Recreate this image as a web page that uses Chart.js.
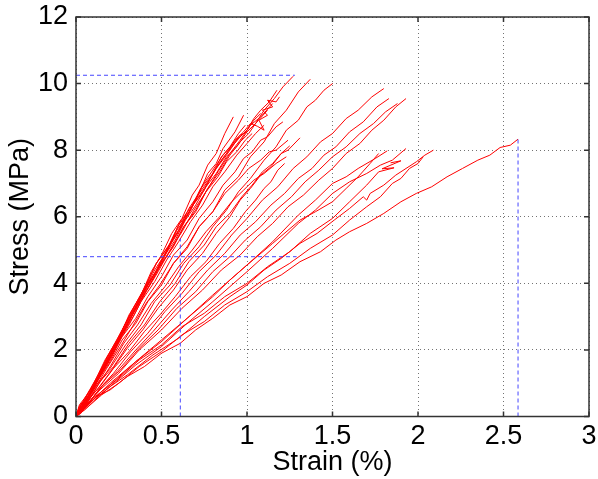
<!DOCTYPE html>
<html>
<head>
<meta charset="utf-8">
<script src="https://cdn.jsdelivr.net/npm/chart.js@4/dist/chart.umd.min.js"></script>
<style>
  html, body { margin: 0; padding: 0; background: #fff; }
  #chart { display: block; }
</style>
</head>
<body>
<canvas id="chart" width="598" height="479"></canvas>
<script>
// Axis ticks
const strainTicks = [0, 0.5, 1, 1.5, 2, 2.5, 3];
const stressTicks = [0, 2, 4, 6, 8, 10, 12];

// Specimen curves, [strain %, stress MPa]
// steep group
const specA01 = [[0,0],[0.03,0.35],[0.07,0.6],[0.12,1.1],[0.18,1.75],[0.25,2.35],[0.31,3.05],[0.38,3.65],[0.44,4.35],[0.5,4.85],[0.56,5.5],[0.62,5.95],[0.68,6.65],[0.72,6.95],[0.77,7.55],[0.82,7.9],[0.87,8.5],[0.92,9.0]];
const specA02 = [[0,0],[0.02,0.1],[0.05,0.45],[0.1,0.8],[0.15,1.35],[0.22,1.95],[0.3,2.8],[0.36,3.3],[0.42,3.95],[0.48,4.45],[0.55,5.2],[0.6,5.6],[0.66,6.25],[0.72,6.7],[0.77,7.3],[0.82,7.6],[0.86,8.05],[0.93,8.55],[0.98,9.05]];
const specA03 = [[0,0],[0.03,0.2],[0.06,0.55],[0.1,0.85],[0.16,1.5],[0.22,2.0],[0.28,2.7],[0.35,3.3],[0.42,4.0],[0.5,4.6],[0.56,5.25],[0.62,5.75],[0.69,6.4],[0.75,6.85],[0.82,7.45],[0.88,7.85],[0.94,8.3],[1.0,8.6],[1.04,8.95],[1.08,9.2],[1.13,9.45],[1.175,9.8]];
const specA04 = [[0,0],[0.03,0.3],[0.06,0.45],[0.12,1.1],[0.18,1.6],[0.25,2.35],[0.32,2.95],[0.38,3.6],[0.45,4.2],[0.52,4.85],[0.58,5.3],[0.64,5.9],[0.7,6.35],[0.76,6.9],[0.82,7.3],[0.88,7.8],[0.94,8.1],[1.0,8.55],[1.05,8.8],[1.1,9.2],[1.16,9.55],[1.21,9.9],[1.27,10.22]];
const specA05 = [[0,0],[0.02,0.3],[0.05,0.5],[0.1,0.95],[0.16,1.45],[0.23,2.15],[0.3,2.8],[0.37,3.5],[0.45,4.2],[0.52,4.9],[0.6,5.55],[0.67,6.25],[0.75,6.8],[0.81,7.4],[0.88,7.9],[0.93,8.3],[0.98,8.55],[1.02,8.8],[1.06,8.72],[1.1,8.6],[1.07,8.9],[1.12,9.05],[1.09,9.2],[1.15,9.3],[1.12,9.5],[1.17,9.45],[1.19,9.6]];
const specA06 = [[0,0],[0.04,0.25],[0.09,0.75],[0.14,1.2],[0.21,1.95],[0.28,2.55],[0.35,3.25],[0.42,3.85],[0.49,4.5],[0.56,5.05],[0.63,5.7],[0.7,6.2],[0.77,6.85],[0.84,7.35],[0.9,7.85],[0.96,8.25],[1.01,8.5],[1.05,8.8],[1.12,9.2]];
const specA07 = [[0,0],[0.03,0.15],[0.07,0.55],[0.13,1.1],[0.2,1.75],[0.27,2.45],[0.34,3.05],[0.41,3.75],[0.48,4.35],[0.55,5.0],[0.62,5.55],[0.69,6.2],[0.76,6.75],[0.83,7.35],[0.9,7.9],[0.96,8.3],[1.02,8.75],[1.08,9.0],[1.15,9.4]];
const specA08 = [[0,0],[0.02,0.15],[0.06,0.6],[0.1,0.95],[0.17,1.7],[0.24,2.3],[0.32,3.1],[0.4,3.85],[0.47,4.6],[0.55,5.2],[0.61,5.85],[0.68,6.35],[0.74,6.95],[0.8,7.4],[0.86,7.85],[0.92,8.2],[0.96,8.45],[1.0,8.55],[1.05,8.8]];
const specA09 = [[0,0],[0.05,0.35],[0.11,0.95],[0.17,1.45],[0.24,2.15],[0.31,2.75],[0.38,3.45],[0.46,4.05],[0.53,4.7],[0.6,5.25],[0.67,5.85],[0.74,6.35],[0.8,6.9],[0.87,7.35],[0.94,7.85],[1.0,8.2],[1.05,8.5],[1.1,8.75]];
const specA10 = [[0,0],[0.03,0.35],[0.06,0.5],[0.13,1.15],[0.2,1.7],[0.27,2.4],[0.35,2.95],[0.42,3.6],[0.5,4.2],[0.57,4.85],[0.65,5.3],[0.72,5.95],[0.8,6.45],[0.86,6.95],[0.93,7.35],[0.98,7.75],[1.03,7.95],[1.08,8.3],[1.12,8.4],[1.17,8.7],[1.21,8.85]];
const specA11 = [[0,0],[0.02,0.3],[0.04,0.45],[0.08,0.8],[0.13,1.25],[0.2,1.95],[0.27,2.6],[0.34,3.3],[0.41,3.95],[0.47,4.6],[0.54,5.1],[0.6,5.75],[0.67,6.2],[0.73,6.85],[0.8,7.3],[0.85,7.8],[0.9,8.1],[0.95,8.5],[0.99,8.75]];
const specA12 = [[0,0],[0.03,0.3],[0.07,0.6],[0.11,1.0],[0.18,1.7],[0.25,2.35],[0.32,3.05],[0.39,3.7],[0.46,4.4],[0.53,4.95],[0.59,5.6],[0.66,6.1],[0.72,6.7],[0.79,7.2],[0.85,7.7],[0.91,8.1],[0.96,8.4],[1.0,8.6],[1.04,8.9],[1.08,9.1]];
const specA13 = [[0,0],[0.05,0.4],[0.11,0.85],[0.18,1.45],[0.26,2.1],[0.33,2.7],[0.41,3.4],[0.49,3.95],[0.57,4.6],[0.65,5.1],[0.72,5.7],[0.8,6.15],[0.87,6.7],[0.95,7.1],[1.01,7.45],[1.08,7.7],[1.13,7.95],[1.17,8.0],[1.24,8.3]];
const specA14 = [[0,0],[0.03,0.1],[0.06,0.35],[0.13,0.95],[0.2,1.5],[0.28,2.2],[0.36,2.75],[0.44,3.4],[0.52,3.9],[0.6,4.5],[0.68,5.0],[0.76,5.55],[0.84,6.0],[0.91,6.45],[0.98,6.8],[1.04,7.1],[1.1,7.3],[1.17,7.6],[1.23,7.8]];
const specA15 = [[0,0],[0.02,0.35],[0.05,0.55],[0.1,0.9],[0.15,1.35],[0.22,2.05],[0.29,2.65],[0.36,3.35],[0.43,3.95],[0.5,4.6],[0.57,5.1],[0.63,5.7],[0.7,6.15],[0.76,6.75],[0.83,7.2],[0.88,7.65],[0.94,7.95],[0.99,8.3],[1.03,8.5]];
// middle group
const specB01 = [[0,0],[0.03,0.3],[0.06,0.45],[0.13,1.1],[0.2,1.65],[0.27,2.3],[0.35,2.8],[0.42,3.45],[0.5,3.95],[0.57,4.6],[0.65,5.05],[0.72,5.7],[0.8,6.15],[0.87,6.8],[0.95,7.2],[1.02,7.8],[1.1,8.25],[1.16,8.8],[1.23,9.2],[1.3,9.75],[1.37,10.13]];
const specB02 = [[0,0],[0.05,0.3],[0.12,0.95],[0.2,1.45],[0.29,2.15],[0.38,2.75],[0.46,3.45],[0.55,3.95],[0.63,4.6],[0.72,5.1],[0.8,5.7],[0.88,6.2],[0.95,6.75],[1.02,7.15],[1.1,7.7],[1.17,8.1],[1.23,8.6],[1.3,8.9],[1.35,9.3],[1.4,9.5],[1.45,9.8],[1.5,10.0]];
const specB03 = [[0,0],[0.03,0.15],[0.07,0.45],[0.14,1.05],[0.22,1.5],[0.31,2.2],[0.4,2.75],[0.49,3.45],[0.58,4.0],[0.66,4.65],[0.75,5.15],[0.82,5.7],[0.9,6.1],[0.97,6.6],[1.03,6.95],[1.09,7.35],[1.15,7.6],[1.2,7.9],[1.24,8.0],[1.31,8.37]];
const specB04 = [[0,0],[0.05,0.35],[0.13,0.85],[0.21,1.4],[0.3,2.05],[0.39,2.6],[0.48,3.25],[0.57,3.8],[0.65,4.4],[0.74,4.9],[0.82,5.5],[0.9,6.0],[0.96,6.5],[1.02,6.85],[1.08,7.25],[1.14,7.5],[1.2,7.9],[1.25,8.13]];
const specB05 = [[0,0],[0.06,0.3],[0.14,0.85],[0.22,1.3],[0.32,1.95],[0.42,2.5],[0.52,3.15],[0.62,3.7],[0.72,4.35],[0.82,4.85],[0.91,5.45],[1.0,5.95],[1.09,6.5],[1.18,6.9],[1.27,7.45],[1.35,7.8],[1.43,8.25],[1.5,8.5],[1.58,8.95],[1.65,9.2],[1.73,9.6],[1.8,9.85]];
const specB06 = [[0,0],[0.05,0.25],[0.14,0.85],[0.24,1.35],[0.35,2.0],[0.45,2.55],[0.56,3.2],[0.66,3.75],[0.77,4.4],[0.87,4.9],[0.96,5.45],[1.05,5.85],[1.14,6.35],[1.22,6.7],[1.3,7.15],[1.38,7.45],[1.45,7.85],[1.52,8.1],[1.6,8.55],[1.68,8.85],[1.76,9.3],[1.83,9.55]];
const specB07 = [[0,0],[0.03,0.25],[0.07,0.4],[0.16,0.95],[0.26,1.4],[0.37,2.05],[0.48,2.6],[0.59,3.25],[0.7,3.75],[0.8,4.35],[0.9,4.8],[0.99,5.3],[1.08,5.7],[1.17,6.2],[1.26,6.6],[1.34,7.05],[1.42,7.4],[1.5,7.8],[1.58,8.1],[1.66,8.5],[1.74,8.8],[1.81,9.15],[1.88,9.4]];
const specB08 = [[0,0],[0.04,0.2],[0.14,0.8],[0.25,1.3],[0.37,2.0],[0.5,2.6],[0.62,3.25],[0.74,3.8],[0.85,4.4],[0.96,4.85],[1.06,5.4],[1.15,5.8],[1.24,6.3],[1.33,6.65],[1.42,7.1],[1.5,7.45],[1.58,7.9],[1.66,8.2],[1.73,8.6],[1.8,8.9],[1.87,9.3],[1.93,9.55]];
const specB09 = [[0,0],[0.06,0.45],[0.14,0.9],[0.22,1.45],[0.31,1.95],[0.4,2.55],[0.49,3.05],[0.58,3.6],[0.67,4.2],[0.76,4.65],[0.84,5.2],[0.92,5.65],[0.99,6.15],[1.05,6.5],[1.1,6.85],[1.14,7.05],[1.18,7.4],[1.22,7.6]];
// low group
const specC01 = [[0,0],[0.02,0.2],[0.05,0.25],[0.12,0.6],[0.2,0.8],[0.3,1.2],[0.4,1.5],[0.5,1.9],[0.61,2.2],[0.7,2.6],[0.8,2.95],[0.9,3.35],[1.0,3.6],[1.1,4.0],[1.2,4.25],[1.31,4.65],[1.43,4.95],[1.52,5.3],[1.6,5.55],[1.7,5.8],[1.8,6.1],[1.9,6.45],[1.99,6.7],[2.08,6.9],[2.17,7.2],[2.26,7.45],[2.35,7.7],[2.42,7.85],[2.48,8.08],[2.54,8.15],[2.585,8.33]];
const specC02 = [[0,0],[0.05,0.2],[0.1,0.45],[0.2,0.9],[0.3,1.25],[0.45,1.85],[0.6,2.35],[0.75,3.0],[0.9,3.6],[1.0,3.95],[1.1,4.4],[1.2,4.75],[1.31,5.2],[1.41,5.5],[1.51,5.9],[1.6,6.25],[1.68,6.6],[1.7,6.5],[1.72,6.7],[1.8,6.95],[1.87,7.25],[1.93,7.45],[1.99,7.65],[2.04,7.85],[2.09,8.0]];
const specC03 = [[0,0],[0.06,0.3],[0.15,0.75],[0.25,1.15],[0.37,1.7],[0.5,2.15],[0.62,2.7],[0.75,3.1],[0.87,3.6],[1.0,4.0],[1.12,4.5],[1.25,4.95],[1.37,5.5],[1.5,5.95],[1.6,6.45],[1.7,6.95],[1.77,7.35],[1.86,7.47],[1.79,7.44],[1.9,7.68],[1.84,7.62]];
const specC04 = [[0,0],[0.04,0.3],[0.1,0.5],[0.2,0.9],[0.35,1.55],[0.5,2.1],[0.65,2.8],[0.8,3.45],[0.9,3.9],[1.0,4.35],[1.15,5.05],[1.3,5.8],[1.4,6.2],[1.5,6.7],[1.6,7.05],[1.7,7.3],[1.78,7.55],[1.85,7.7],[1.93,8.05]];
const specC05 = [[0,0],[0.1,0.55],[0.2,0.95],[0.35,1.65],[0.5,2.25],[0.65,2.95],[0.8,3.6],[0.9,4.1],[1.0,4.55],[1.15,5.25],[1.3,6.05],[1.4,6.5],[1.5,7.0],[1.58,7.2],[1.65,7.45],[1.75,7.75],[1.82,7.98]];
const specC06 = [[0,0],[0.05,0.35],[0.1,0.5],[0.2,1.0],[0.35,1.65],[0.5,2.3],[0.65,2.95],[0.8,3.65],[0.9,4.1],[1.0,4.55],[1.15,5.2],[1.31,5.9],[1.4,6.15],[1.5,6.45],[1.58,6.85],[1.65,7.2],[1.72,7.6],[1.77,7.9]];
const specC07 = [[0,0],[0.05,0.2],[0.15,0.65],[0.25,1.0],[0.37,1.5],[0.5,1.95],[0.62,2.45],[0.75,2.85],[0.87,3.35],[1.0,3.75],[1.12,4.2],[1.25,4.6],[1.37,5.05],[1.5,5.45],[1.6,5.9],[1.7,6.3],[1.78,6.6],[1.85,7.0],[1.9,7.15],[1.95,7.45],[2.0,7.6],[2.03,7.8]];

const specimens = [
  specA01, specA02, specA03, specA04, specA05, specA06, specA07, specA08,
  specA09, specA10, specA11, specA12, specA13, specA14, specA15,
  specB01, specB02, specB03, specB04, specB05, specB06, specB07, specB08, specB09,
  specC01, specC02, specC03, specC04, specC05, specC06, specC07
];

// Dashed reference lines
const maxStressLine = [[0, 10.25], [1.28, 10.25]];
const meanStressLine = [[0, 4.8], [1.29, 4.8]];
const minStrainLine = [[0.61, 0], [0.61, 5.35]];
const maxStrainLine = [[2.585, 0], [2.585, 8.33]];

const toXY = (arr) => arr.map(([x, y]) => ({ x, y }));

const refColor = 'rgb(70, 70, 255)';
const refLines = [maxStressLine, meanStressLine, minStrainLine, maxStrainLine].map(line => ({
  data: toXY(line),
  borderColor: refColor,
  borderWidth: 1,
  borderDash: [4, 3],
  pointRadius: 0,
  order: 0
}));

const specimenLines = specimens.map(s => ({
  data: toXY(s),
  borderColor: '#ff0000',
  borderWidth: 1,
  pointRadius: 0,
  order: 1
}));

// MATLAB style box with inward ticks
const boxPlugin = {
  id: 'box',
  afterDraw(chart) {
    const { ctx, chartArea: a, scales } = chart;
    ctx.save();
    ctx.strokeStyle = '#333333';
    ctx.lineWidth = 1.5;
    ctx.beginPath();
    strainTicks.forEach(v => {
      const px = scales.x.getPixelForValue(v);
      ctx.moveTo(px, a.bottom); ctx.lineTo(px, a.bottom - 5);
      ctx.moveTo(px, a.top); ctx.lineTo(px, a.top + 5);
    });
    stressTicks.forEach(v => {
      const py = scales.y.getPixelForValue(v);
      ctx.moveTo(a.left, py); ctx.lineTo(a.left + 5, py);
      ctx.moveTo(a.right, py); ctx.lineTo(a.right - 5, py);
    });
    ctx.stroke();
    ctx.strokeRect(a.left, a.top, a.right - a.left, a.bottom - a.top);
    ctx.restore();
  }
};

const tickFont = { family: '"Liberation Sans", Arial, sans-serif', size: 27 };
const fmt = (v) => String(Math.round(v * 10) / 10);

new Chart(document.getElementById('chart'), {
  type: 'line',
  data: { datasets: [...refLines, ...specimenLines] },
  options: {
    responsive: false,
    animation: false,
    devicePixelRatio: 1,
    layout: { padding: { top: 17, right: 9, left: 0, bottom: 0 } },
    elements: { line: { tension: 0 } },
    plugins: { legend: { display: false }, tooltip: { enabled: false } },
    scales: {
      x: {
        type: 'linear',
        min: 0,
        max: 3,
        afterBuildTicks: (scale) => { scale.ticks = strainTicks.map(v => ({ value: v })); },
        afterFit: (scale) => {
          scale.height = 62.5;
          scale.paddingLeft = 0; scale.paddingRight = 0;
        },
        ticks: { color: '#000', font: tickFont, padding: 4, maxRotation: 0, callback: fmt },
        grid: { color: 'rgba(0,0,0,0.55)', lineWidth: 1, drawTicks: false },
        border: { display: false, dash: [1, 3] },
        title: { display: true, text: 'Strain (%)', color: '#000', font: tickFont, padding: { top: 0, bottom: 0 } }
      },
      y: {
        type: 'linear',
        min: 0,
        max: 12,
        afterBuildTicks: (scale) => { scale.ticks = stressTicks.map(v => ({ value: v })); },
        afterFit: (scale) => {
          scale.width = 76;
          scale.paddingTop = 0; scale.paddingBottom = 0;
        },
        ticks: { color: '#000', font: tickFont, padding: 8, callback: fmt },
        grid: { color: 'rgba(0,0,0,0.55)', lineWidth: 1, drawTicks: false },
        border: { display: false, dash: [1, 3] },
        title: { display: true, text: 'Stress (MPa)', color: '#000', font: tickFont, padding: { top: 4, bottom: 0 } }
      }
    }
  },
  plugins: [boxPlugin]
});
</script>
</body>
</html>
